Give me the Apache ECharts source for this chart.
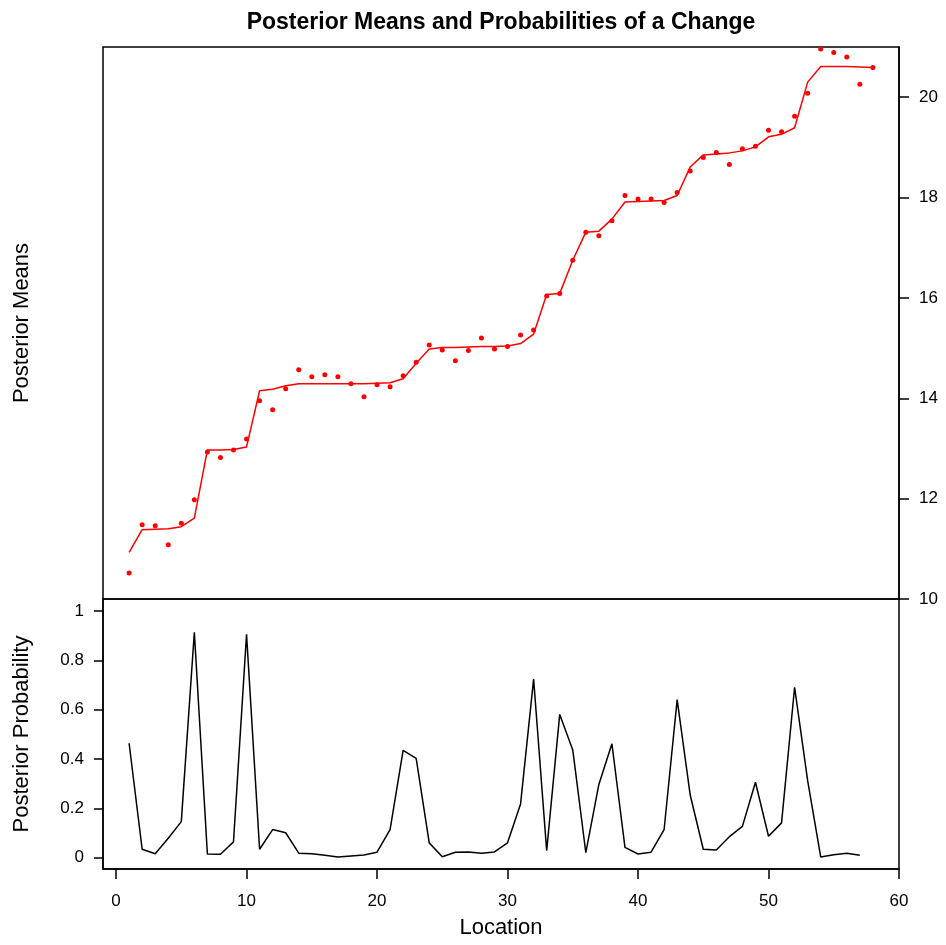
<!DOCTYPE html>
<html>
<head>
<meta charset="utf-8">
<script src="https://cdn.jsdelivr.net/npm/echarts@6/dist/echarts.min.js"></script>
<style>html,body{margin:0;padding:0;background:#fff;}#c{width:946px;height:945px;}</style>
</head>
<body>
<div id="c"></div>
<script>
const location_ = [1,2,3,4,5,6,7,8,9,10,11,12,13,14,15,16,17,18,19,20,21,22,23,24,25,26,27,28,29,30,31,32,33,34,35,36,37,38,39,40,41,42,43,44,45,46,47,48,49,50,51,52,53,54,55,56,57,58];
const observed = [10.52,11.48,11.46,11.08,11.51,11.98,12.93,12.82,12.97,13.19,13.95,13.77,14.19,14.57,14.43,14.47,14.43,14.29,14.03,14.27,14.23,14.45,14.72,15.06,14.96,14.75,14.95,15.20,14.98,15.03,15.26,15.36,16.04,16.09,16.75,17.31,17.24,17.54,18.04,17.97,17.97,17.90,18.10,18.53,18.80,18.90,18.66,18.97,19.02,19.34,19.31,19.62,20.08,20.96,20.89,20.80,20.26,20.59];
const posteriorMean = [10.93,11.38,11.39,11.40,11.44,11.61,12.97,12.97,12.98,13.03,14.15,14.18,14.25,14.29,14.29,14.29,14.29,14.29,14.29,14.30,14.31,14.39,14.70,14.98,15.01,15.01,15.02,15.03,15.03,15.04,15.09,15.28,16.07,16.09,16.75,17.31,17.33,17.57,17.91,17.92,17.93,17.94,18.04,18.61,18.85,18.87,18.89,18.93,19.01,19.21,19.26,19.39,20.30,20.61,20.61,20.61,20.60,20.59];
const probChange = [0.464,0.034,0.016,0.079,0.146,0.914,0.015,0.014,0.064,0.906,0.034,0.114,0.101,0.018,0.016,0.010,0.003,0.007,0.011,0.022,0.114,0.435,0.403,0.060,0.004,0.022,0.023,0.018,0.023,0.060,0.218,0.724,0.028,0.581,0.437,0.020,0.297,0.462,0.042,0.015,0.022,0.114,0.641,0.254,0.034,0.031,0.085,0.127,0.306,0.087,0.141,0.691,0.312,0.003,0.012,0.018,0.010];
const xTicks = [0,10,20,30,40,50,60];
const meanTicks = [10,12,14,16,18,20];
const probTicks = [0,0.2,0.4,0.6,0.8,1];

const FONT = 'Liberation Sans';
const pairs = (xs, ys) => ys.map((v, i) => [xs[i], v]);

const chart = echarts.init(document.getElementById('c'), null, {renderer: 'canvas'});
const black = '#000';
chart.setOption({
  animation: false,
  backgroundColor: '#fff',
  textStyle: {fontFamily: FONT},
  title: {
    text: 'Posterior Means and Probabilities of a Change',
    left: 496, top: 6, textAlign: 'center',
    textStyle: {fontFamily: FONT, fontWeight: 'bold', fontSize: 23, color: black}
  },
  grid: [
    {left: 103, right: 47, top: 47, height: 552, show: true, borderColor: black, borderWidth: 1.5, backgroundColor: 'transparent'},
    {left: 103, right: 47, top: 599, height: 270, show: true, borderColor: black, borderWidth: 1.5, backgroundColor: 'transparent'}
  ],
  xAxis: [
    {type: 'value', gridIndex: 0, min: -1, max: 60, show: true,
     axisLine: {show: false, onZero: false}, axisTick: {show: false}, axisLabel: {show: false}, splitLine: {show: false}},
    {type: 'value', gridIndex: 1, min: -1, max: 60, position: 'bottom',
     name: 'Location', nameLocation: 'middle', nameGap: 48,
     nameTextStyle: {fontFamily: FONT, fontSize: 22, color: black},
     axisLine: {show: true, onZero: false, lineStyle: {color: black, width: 1.5}},
     axisTick: {show: true, length: 10, lineStyle: {color: black, width: 1.5}, customValues: xTicks},
     axisLabel: {show: true, margin: 24, fontFamily: FONT, fontSize: 17, color: black, customValues: xTicks},
     splitLine: {show: false}}
  ],
  yAxis: [
    {type: 'value', gridIndex: 0, min: 10, max: 21.0, position: 'right',
     axisLine: {show: true, onZero: false, lineStyle: {color: black, width: 1.5}},
     axisTick: {show: true, length: 10, lineStyle: {color: black, width: 1.5}, customValues: meanTicks},
     axisLabel: {show: true, margin: 20, fontFamily: FONT, fontSize: 17, color: black, customValues: meanTicks},
     splitLine: {show: false}},
    {type: 'value', gridIndex: 0, min: 10, max: 21.0, position: 'left',
     name: 'Posterior Means', nameLocation: 'middle', nameGap: 70,
     nameTextStyle: {fontFamily: FONT, fontSize: 22, color: black},
     axisLine: {show: false, onZero: false}, axisTick: {show: false}, axisLabel: {show: false}, splitLine: {show: false}},
    {type: 'value', gridIndex: 1, min: -0.046, max: 1.049, position: 'left',
     name: 'Posterior Probability', nameLocation: 'middle', nameGap: 70,
     nameTextStyle: {fontFamily: FONT, fontSize: 22, color: black},
     axisLine: {show: true, onZero: false, lineStyle: {color: black, width: 1.5}},
     axisTick: {show: true, length: 9, lineStyle: {color: black, width: 1.5}, customValues: probTicks},
     axisLabel: {show: true, margin: 19, fontFamily: FONT, fontSize: 17, color: black, customValues: probTicks},
     splitLine: {show: false}}
  ],
  series: [
    {type: 'line', name: 'Posterior Mean', xAxisIndex: 0, yAxisIndex: 0,
     data: pairs(location_, posteriorMean), showSymbol: false, symbol: 'none',
     lineStyle: {color: '#ff0000', width: 1.5}, silent: true},
    {type: 'scatter', name: 'Observed', xAxisIndex: 0, yAxisIndex: 0,
     data: pairs(location_, observed), symbol: 'circle', symbolSize: 5,
     itemStyle: {color: '#ff0000', opacity: 1}, clip: false, silent: true},
    {type: 'line', name: 'Posterior Probability', xAxisIndex: 1, yAxisIndex: 2,
     data: pairs(location_, probChange), showSymbol: false, symbol: 'none',
     lineStyle: {color: black, width: 1.5}, silent: true}
  ]
});
</script>
</body>
</html>
